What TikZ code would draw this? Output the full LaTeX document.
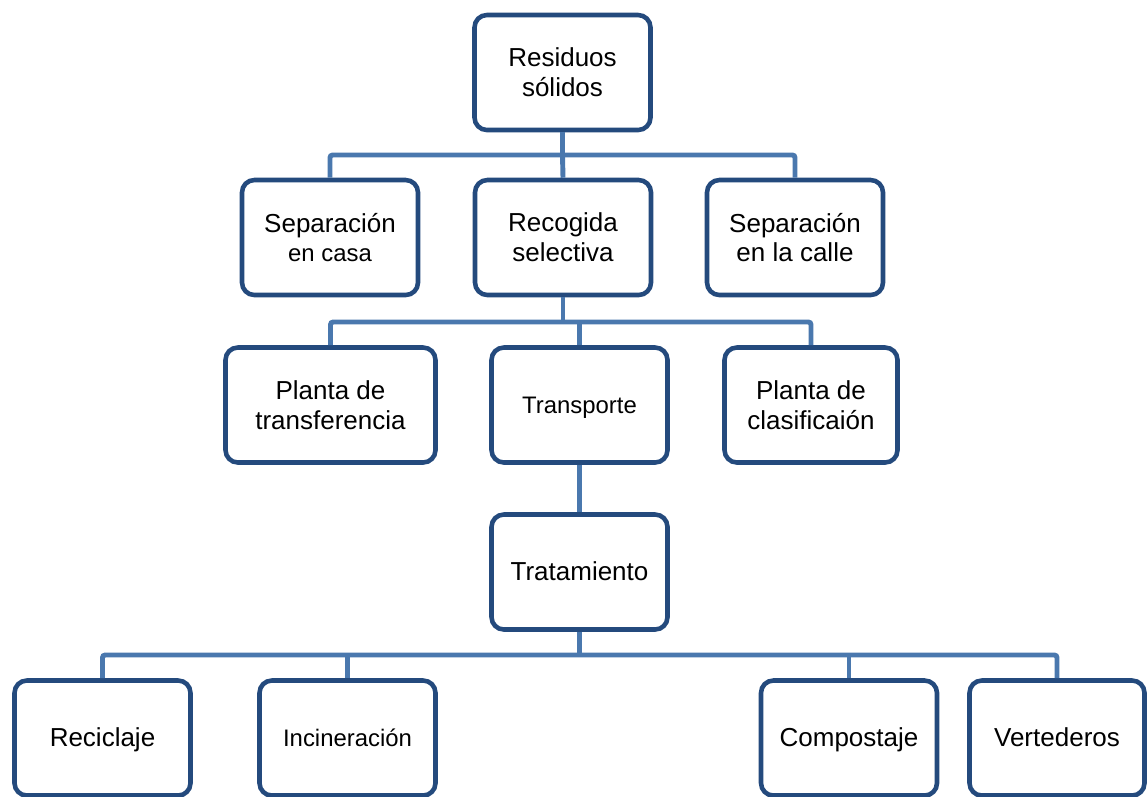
\documentclass[tikz,border=0pt]{standalone}
\usepackage{fontspec}
\setmainfont{Liberation Sans}
\definecolor{boxblue}{RGB}{36,74,125}
\definecolor{linkblue}{RGB}{74,120,174}
\newcommand{\chico}{\fontsize{13.6}{16}\selectfont}

\begin{document}
\begin{tikzpicture}[x=0.02cm,y=-0.02cm,
        caja/.style={draw=boxblue,line width=2.6pt,rounded corners=7pt,fill=white,
            align=center,minimum width=3.52cm,minimum height=2.3cm,inner sep=2pt,
            font=\fontsize{14.8}{17}\selectfont},
        linea/.style={text height=2ex,text depth=0.25ex},
        enlace/.style={draw=linkblue,line width=2.8pt,rounded corners=1.5pt}]
                \useasboundingbox (0,0) rectangle (1147,796);

                \node[caja] (residuos) at (562.5,72.5) {Residuos\\sólidos};

                \node[caja] (sepcasa) at (330,237.5) {Separación\\\chico en casa};
                \node[caja] (recogida) at (563,237.5) {Recogida\\selectiva};
                \node[caja] (sepcalle) at (795,237.5) {Separación\\en la calle};

                \node[caja,minimum width=4.2cm] (transferencia) at (330.5,405) {Planta de\\transferencia};
                \node[caja,linea,font=\chico] (transporte) at (579.5,405) {Transporte};
                \node[caja,minimum width=3.46cm] (clasificacion) at (811,405) {Planta de\\clasificaión};

                \node[caja,linea] (tratamiento) at (579.5,572) {Tratamiento};

                \node[caja,linea] (reciclaje) at (102.5,738) {Reciclaje};
                \node[caja,linea,font=\chico] (incineracion) at (347.5,738) {Incineración};
                \node[caja,linea] (compostaje) at (849,738) {Compostaje};
                \node[caja,linea,minimum width=3.5cm] (vertederos) at (1057,738) {Vertederos};

                \coordinate (b1) at (562.5,155);
                \draw[enlace] (residuos.south) -- (b1);
                \draw[enlace] (sepcasa.north) |- (b1) -| (sepcalle.north);
                \draw[enlace] (b1) -- (recogida.north);

                \coordinate (b2) at (563,322);
                \draw[enlace] (recogida.south) -- (b2);
                \draw[enlace] (transferencia.north) |- (b2) -| (clasificacion.north);
                \draw[enlace] (transporte.north) -- (transporte.north |- b2);
                \draw[enlace] (transporte.south) -- (tratamiento.north);

                \coordinate (b3) at (579.5,655);
                \draw[enlace] (tratamiento.south) -- (b3);
                \draw[enlace] (reciclaje.north) |- (b3) -| (vertederos.north);
                \draw[enlace] (incineracion.north) -- (incineracion.north |- b3);
                \draw[enlace] (compostaje.north) -- (compostaje.north |- b3);
\end{tikzpicture}
\end{document}
